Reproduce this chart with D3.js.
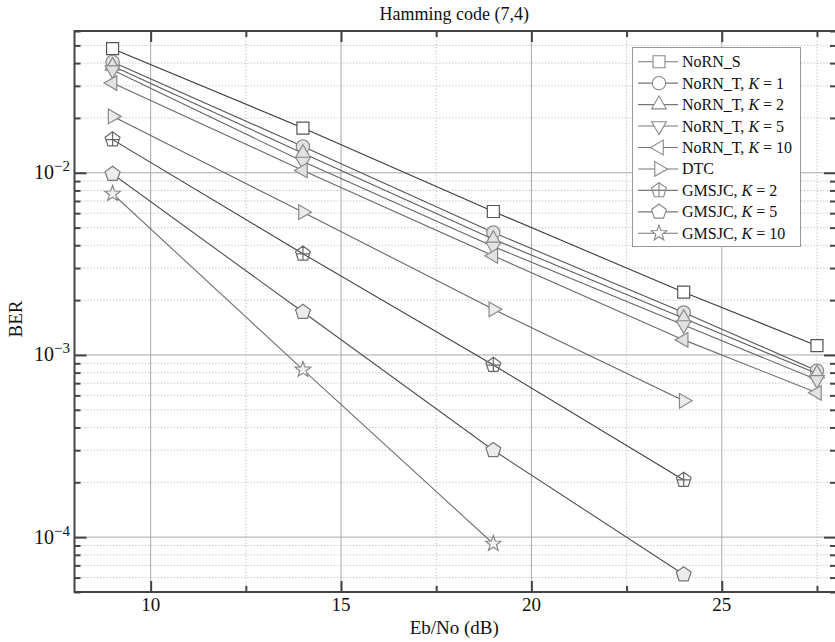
<!DOCTYPE html>
<html>
<head>
<meta charset="utf-8">
<script src="https://cdn.jsdelivr.net/npm/d3@7"></script>
<style>
  body { margin: 0; background: #fff; }
  svg text { font-family: "Liberation Serif", "DejaVu Serif", serif; fill: #111; }
</style>
</head>
<body>
<svg id="chart" width="835" height="642"></svg>
<script>
// Eb/No values (dB) at which each curve was measured
const snrFull = [9, 14, 19, 24, 27.5];

// BER values
const berNoRNS = [0.048, 0.0176, 0.00613, 0.00221, 0.001125];
const berNoRNT1 = [0.0406, 0.01395, 0.0047, 0.00171, 0.00082];
const berNoRNT2 = [0.0386, 0.0128, 0.00432, 0.00159, 0.00079];
const berNoRNT5 = [0.0366, 0.01153, 0.00394, 0.00146, 0.00073];
const berNoRNT10 = [0.0311, 0.0103, 0.0035, 0.00121, 0.00062];
const berDTC = [0.0204, 0.00608, 0.00178, 0.00056];
const berGMSJC2 = [0.0152, 0.00359, 0.00088, 0.000206];
const berGMSJC5 = [0.00984, 0.00172, 0.0003, 0.0000624];
const berGMSJC10 = [0.00767, 0.00083, 0.000092];

const seriesNames = ['NoRN_S', 'NoRN_T', 'NoRN_T', 'NoRN_T', 'NoRN_T', 'DTC', 'GMSJC', 'GMSJC', 'GMSJC'];
const seriesK = [null, 1, 2, 5, 10, null, 2, 5, 10];
const seriesValues = [berNoRNS, berNoRNT1, berNoRNT2, berNoRNT5, berNoRNT10, berDTC, berGMSJC2, berGMSJC5, berGMSJC10];

const xTicks = [10, 15, 20, 25];
const xMinorTicks = [12.5, 17.5, 22.5, 27.5];
const yTicks = [1e-4, 1e-3, 1e-2];

const shapes = ['square', 'circle', 'up', 'down', 'left', 'right', 'pentplus', 'pent', 'star'];
const lineColors = ['#3a3a3a', '#555', '#5e5e5e', '#666', '#6a6a6a', '#666', '#404040', '#505050', '#707070'];
const markStroke = ['#555', '#8a8a8a', '#8a8a8a', '#8a8a8a', '#8a8a8a', '#8a8a8a', '#666', '#777', '#8a8a8a'];
const markFill = ['#fff', '#e2e2e2', '#e2e2e2', '#e2e2e2', '#e2e2e2', '#ececec', 'none', '#ececec', '#f0f0f0'];

const pLeft = 74.5, pRight = 836, pTop = 31, pBottom = 592;

const svg = d3.select('#chart');
const x = d3.scaleLinear().domain([8, 28]).range([pLeft, pRight]);
const y = d3.scaleLog().domain([5e-5, 0.06]).range([pBottom, pTop]);

// minor log ticks 2..9 in every decade inside the domain
const yMinorTicks = [];
[-5, -4, -3, -2].forEach(e => {
  for (let k = 2; k <= 9; k++) {
    const v = k * Math.pow(10, e);
    if (v >= 5e-5 && v <= 0.06) yMinorTicks.push(v);
  }
});

// polygon helper for the markers
function poly(n, r, rot) {
  const pts = d3.range(n).map(i => {
    const a = (rot + i * 360 / n) * Math.PI / 180;
    return [r * Math.cos(a), r * Math.sin(a)];
  });
  return 'M' + pts.map(p => p[0].toFixed(2) + ',' + p[1].toFixed(2)).join('L') + 'Z';
}
function markerPath(shape) {
  switch (shape) {
    case 'square': return 'M-6,-6H6V6H-6Z';
    case 'circle': return d3.symbol(d3.symbolCircle, 140)();
    case 'up': return poly(3, 8.5, -90);
    case 'down': return poly(3, 8.5, 90);
    case 'left': return poly(3, 8.5, 180);
    case 'right': return poly(3, 8.5, 0);
    case 'pent': return poly(5, 7.8, -90);
    case 'pentplus': return poly(5, 7.8, -90) + 'M0,-7.8V6.3M-6.6,0H6.6';
    case 'star': {
      const pts = d3.range(10).map(i => {
        const a = (-90 + i * 36) * Math.PI / 180, r = i % 2 ? 3.4 : 8.2;
        return [r * Math.cos(a), r * Math.sin(a)];
      });
      return 'M' + pts.map(p => p[0].toFixed(2) + ',' + p[1].toFixed(2)).join('L') + 'Z';
    }
  }
}

// gridlines
const grid = svg.append('g');
grid.selectAll('.gxm').data(xMinorTicks).join('line')
  .attr('x1', d => x(d)).attr('x2', d => x(d)).attr('y1', pTop).attr('y2', pBottom)
  .attr('stroke', '#bdbdbd').attr('stroke-dasharray', '1.2,2');
grid.selectAll('.gym').data(yMinorTicks).join('line')
  .attr('y1', d => y(d)).attr('y2', d => y(d)).attr('x1', pLeft).attr('x2', pRight)
  .attr('stroke', '#bdbdbd').attr('stroke-dasharray', '1.2,2');
grid.selectAll('.gx').data(xTicks).join('line')
  .attr('x1', d => x(d)).attr('x2', d => x(d)).attr('y1', pTop).attr('y2', pBottom)
  .attr('stroke', '#a8a8a8');
grid.selectAll('.gy').data(yTicks).join('line')
  .attr('y1', d => y(d)).attr('y2', d => y(d)).attr('x1', pLeft).attr('x2', pRight)
  .attr('stroke', '#a8a8a8');

// axes: inward ticks on all four sides
function tickAxis(axis, vals, size, tr) {
  const g = svg.append('g').attr('transform', tr)
    .call(axis.tickValues(vals).tickSizeInner(size).tickSizeOuter(0).tickFormat(''));
  g.select('.domain').remove();
  g.selectAll('.tick line').attr('stroke', '#444').attr('stroke-width', 2);
  return g;
}
tickAxis(d3.axisBottom(x), xTicks, -11, `translate(0,${pBottom})`);
tickAxis(d3.axisBottom(x), xMinorTicks, -6, `translate(0,${pBottom})`);
tickAxis(d3.axisTop(x), xTicks, -11, `translate(0,${pTop})`);
tickAxis(d3.axisTop(x), xMinorTicks, -6, `translate(0,${pTop})`);
tickAxis(d3.axisLeft(y), yTicks, -12, `translate(${pLeft},0)`);
tickAxis(d3.axisLeft(y), yMinorTicks, -6, `translate(${pLeft},0)`);
tickAxis(d3.axisRight(y), yTicks, -12, `translate(${pRight},0)`);
tickAxis(d3.axisRight(y), yMinorTicks, -6, `translate(${pRight},0)`);

// frame
svg.append('rect').attr('x', pLeft).attr('y', pTop)
  .attr('width', pRight - pLeft).attr('height', pBottom - pTop)
  .attr('fill', 'none').attr('stroke', '#444').attr('stroke-width', 2);

// x tick labels
svg.append('g').selectAll('text').data(xTicks).join('text')
  .attr('x', d => x(d)).attr('y', 611)
  .attr('text-anchor', 'middle').style('font-size', '19px')
  .text(d => d);

// y tick labels with superscript exponent
const yl = svg.append('g').selectAll('text').data(yTicks).join('text')
  .attr('x', 70).attr('y', d => y(d) + 6.5)
  .attr('text-anchor', 'end').style('font-size', '20px');
yl.append('tspan').text('10');
yl.append('tspan').attr('dy', -8).style('font-size', '15px')
  .text(d => '\u2212' + Math.round(-Math.log10(d)));

// title and axis labels
svg.append('text').attr('x', (pLeft + pRight) / 2 - 1).attr('y', 20)
  .attr('text-anchor', 'middle').style('font-size', '18px').text('Hamming code (7,4)');
svg.append('text').attr('x', (pLeft + pRight) / 2 - 1).attr('y', 634)
  .attr('text-anchor', 'middle').style('font-size', '19px').text('Eb/No (dB)');
svg.append('text').attr('transform', 'translate(22,319) rotate(-90)')
  .attr('text-anchor', 'middle').style('font-size', '19px').text('BER');

// curves
const line = d3.line().x(d => x(d[0])).y(d => y(d[1]));
seriesValues.forEach((vals, i) => {
  const pts = vals.map((v, j) => [snrFull[j], v]);
  const g = svg.append('g').attr('class', 'series');
  g.append('path').attr('d', line(pts)).attr('fill', 'none')
    .attr('stroke', lineColors[i]).attr('stroke-width', 1.1);
  g.selectAll('path.mk').data(pts).join('path').attr('class', 'mk')
    .attr('transform', d => `translate(${x(d[0])},${y(d[1])})`)
    .attr('d', markerPath(shapes[i]))
    .attr('fill', markFill[i]).attr('stroke', markStroke[i]).attr('stroke-width', 1.2);
});

// legend
const lg = svg.append('g');
lg.append('rect').attr('x', 632.5).attr('y', 47.5).attr('width', 168).attr('height', 199)
  .attr('fill', '#fff').attr('stroke', '#999');
seriesNames.forEach((name, i) => {
  const cy = 61.7 + i * 21.45;
  lg.append('line').attr('x1', 638).attr('x2', 678).attr('y1', cy).attr('y2', cy)
    .attr('stroke', '#777').attr('stroke-width', 1.1);
  lg.append('path').attr('transform', `translate(659,${cy})`)
    .attr('d', markerPath(shapes[i]))
    .attr('fill', shapes[i] === 'pentplus' ? 'none' : '#fff')
    .attr('stroke', '#888').attr('stroke-width', 1.1);
  const t = lg.append('text').attr('x', 682).attr('y', cy + 5.5).style('font-size', '16px');
  if (seriesK[i] === null) {
    t.text(name);
  } else {
    t.append('tspan').text(name + ', ');
    t.append('tspan').style('font-style', 'italic').text('K');
    t.append('tspan').text(' = ' + seriesK[i]);
  }
});
</script>
</body>
</html>
